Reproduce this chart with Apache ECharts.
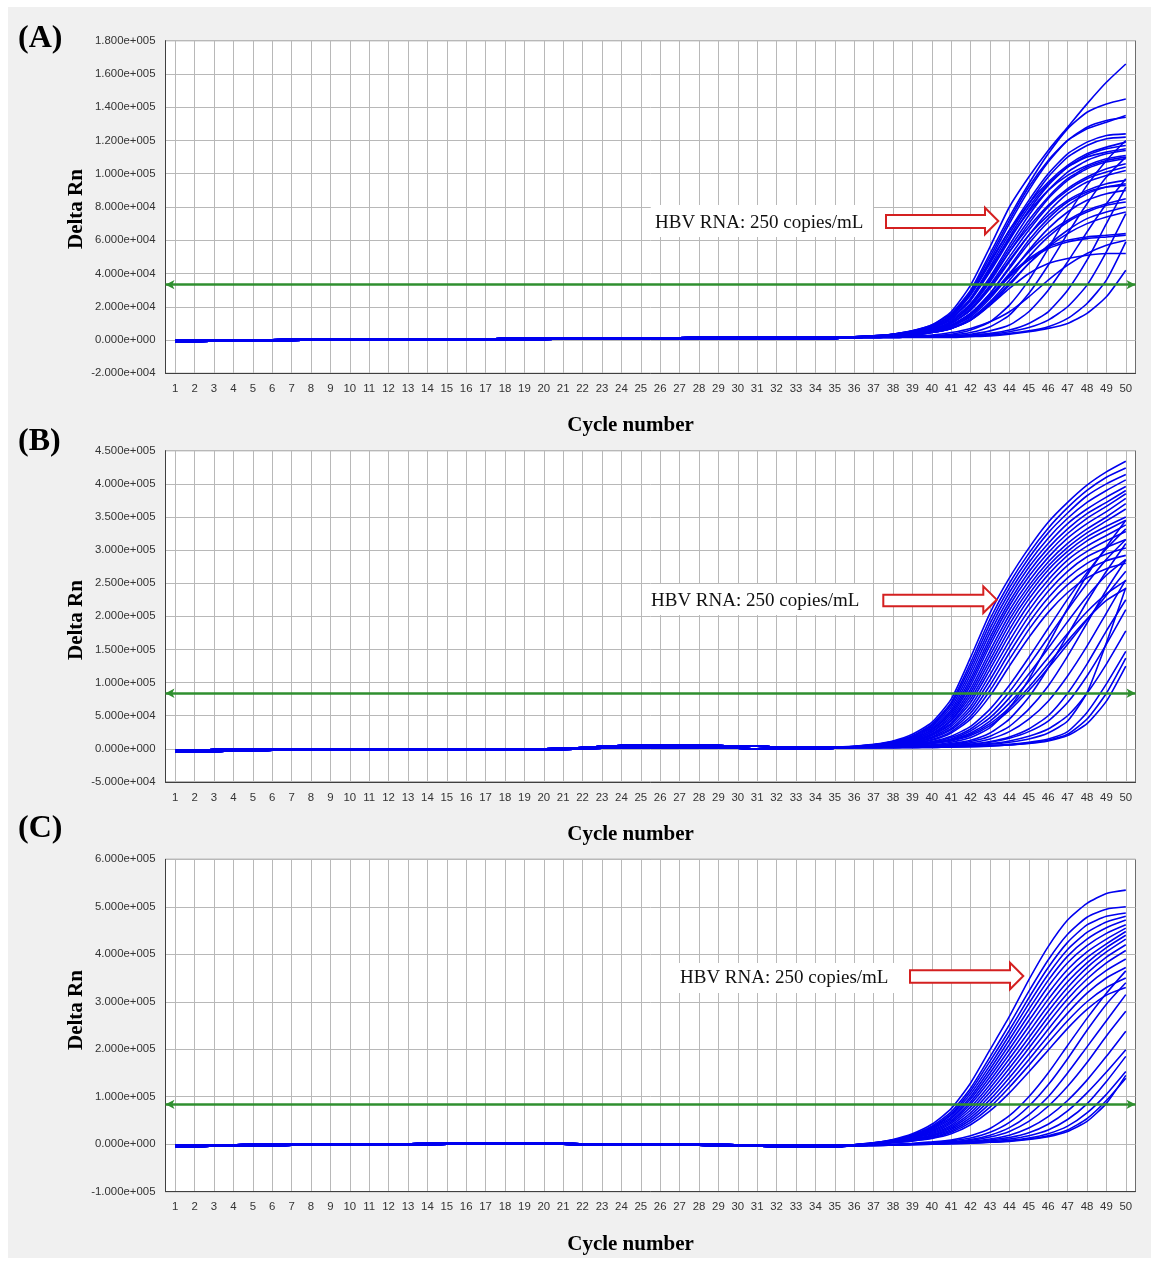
<!DOCTYPE html>
<html><head><meta charset="utf-8">
<script src="https://cdn.jsdelivr.net/npm/echarts@6/dist/echarts.min.js"></script>
<style>
html,body{margin:0;padding:0;background:#fff;}
#bg{position:absolute;left:8px;top:7px;width:1143px;height:1251px;background:#f0f0f0;}
#chart{position:absolute;left:0;top:0;width:1156px;height:1263px;}
</style></head><body><div id="bg"></div><div id="chart"></div>
<script>
// ---------- DATA (Delta Rn values in thousands) ----------
const cycles = [1,2,3,4,5,6,7,8,9,10,11,12,13,14,15,16,17,18,19,20,21,22,23,24,25,26,27,28,29,30,31,32,33,34,35,36,37,38,39,40,41,42,43,44,45,46,47,48,49,50];
const panelLabels = ['(A)','(B)','(C)'];
const yAxisTitle = 'Delta Rn';
const xAxisTitle = 'Cycle number';
const annotationText = 'HBV RNA: 250 copies/mL';
const thresholds = [33.3, 84, 84];

// pooled baseline band (lower / upper edge), cycles 1-35
const baseA_lo = [-0.8,-0.8,-0.6,-0.4,-0.3,-0.2,-0.2,-0.1,-0.1,0,0,0,0,0,0,0,0,0.3,0.4,0.4,0.5,0.5,0.5,0.5,0.6,0.6,0.6,0.6,0.7,0.7,0.8,0.8,0.9,0.9,1.0];
const baseA_hi = [-0.2,-0.2,0,0.1,0.2,0.2,0.3,0.3,0.3,0.4,0.4,0.4,0.4,0.5,0.5,0.5,0.6,1.0,1.1,1.1,1.2,1.2,1.2,1.3,1.3,1.4,1.4,1.5,1.5,1.6,1.6,1.7,1.7,1.8,1.9];
const baseB_lo = [-5,-5,-4,-3,-3,-2,-2,-2,-2,-2,-2,-2,-2,-2,-2,-2,-2,-2,-2,-2,-1,0,1,2,2,2,2,2,1,1,0,0,0,0,1];
const baseB_hi = [-2,-2,-1,0,0,0,0,0,0,0,0,0,0,0,0,0,0,0,0,0,1,2,4,5,6,6,6,5,5,4,4,3,3,3,3];
const baseC_lo = [-5,-5,-4,-3,-3,-3,-2,-2,-2,-2,-2,-1,-1,-1,0,0,0,0,0,0,0,-1,-1,-1,-1,-2,-2,-2,-3,-3,-4,-5,-5,-6,-6];
const baseC_hi = [-2,-2,-1,-1,0,0,0,0,0,0,1,1,1,2,2,2,2,2,2,2,2,1,1,1,1,0,0,0,0,-1,-1,-1,-2,-2,-2];

// amplification tails, cycles 36-50, one row per well
const tailsA = [
 [2,2.5,3.5,5.5,9,17,33,56,80,98,114,128,142,155,166],
 [2,2.5,3.5,5.5,9,16,30,52,74,94,112,127,137,142,145],
 [2,2.5,3.5,5,8,15,28,48,70,90,107,120,128,132,134],
 [2,2.5,3.5,5.5,8.5,15,29,50,72,92,108,120,127,131,135],
 [2,2.5,3.5,5,8,14,27,46,66,84,100,112,119,123,124],
 [2,2.5,3,5,7.5,13,25,44,64,82,98,110,117,121,122],
 [2,2.5,3.5,5,8,15,28,47,66,82,95,105,112,116,119],
 [1.5,2,3,4.5,7,13,24,41,60,78,93,104,111,115,117],
 [1.5,2,3,4.5,7,13,24,42,62,80,94,104,110,113,115],
 [1.5,2,3,4.5,7,12,22,38,57,75,90,101,108,112,114],
 [1.5,2,3,4.5,7,13,25,43,61,77,90,99,105,109,111],
 [1.5,2,3,4,6.5,11,21,37,55,72,86,97,104,108,110],
 [1.5,2,3,4,6,11,20,35,53,70,85,96,103,107,109],
 [1.5,2,3,4,6,11,21,36,53,68,81,91,98,103,106],
 [1.5,2,2.5,3.5,6,10,19,33,50,66,80,90,97,101,104],
 [1.5,2,2.5,4,6,10,18,31,47,63,77,88,95,99,102],
 [1.5,2,2.5,3.5,5.5,10,18,32,48,63,75,84,90,94,96],
 [1.5,2,2.5,3.5,5.5,9,16,28,43,58,71,81,88,92,94],
 [1.5,2,2.5,3.5,5,9,16,28,44,60,73,83,89,92,93],
 [1.5,2,2.5,3.5,5,8,14,25,39,54,67,77,84,88,90],
 [1.5,2,2.5,3.5,5,8,15,26,40,53,64,72,78,82,85],
 [1.5,2,2.5,3,4.5,7,13,23,36,50,62,71,77,81,83],
 [1.5,2,2.5,3,4.5,7,12,21,33,46,57,66,73,77,80],
 [1.5,2,2.5,3,4.5,7,12,22,34,46,56,64,70,74,77],
 [1.5,2,2.5,3.5,5,8,15,26,38,48,55,59,61,62,63],
 [1.5,2,2.5,3.5,5,8.5,16,27,39,49,56,60,62,63,64],
 [1.5,2,2.5,3,4.5,7,12,21,31,40,46,49,51,52,52],
 [1.5,1.5,2,2.5,3,4.5,7,11,17,26,36,45,52,57,60],
 [1.5,1.5,2,2,2.5,3.5,6,11,21,36,55,75,93,108,120],
 [1.5,1.5,2,2,2.5,3,4.5,8,15,28,45,64,82,98,110],
 [1.5,1.5,2,2,2,2.5,3.5,5.5,9,17,30,47,65,82,97],
 [1.5,1.5,1.5,2,2,2.5,3,4,6,10,17,30,48,70,92],
 [1.5,1.5,1.5,2,2,2,2.5,3.5,5,7.5,12,20,33,53,76],
 [1.5,1.5,1.5,2,2,2,2.5,3,4,5.5,8,13,22,36,59],
 [1.5,1.5,1.5,1.5,1.5,1.5,2,2.5,3.5,5,7,10,16,26,42]
];
const tailsB = [
 [4,7,12,22,40,75,138,205,258,303,342,372,398,418,434],
 [4,6,11,20,37,70,130,196,250,295,333,364,390,410,424],
 [4,6,11,19,35,67,124,189,243,288,326,356,382,400,414],
 [3,6,10,18,33,63,118,182,236,281,318,348,372,390,406],
 [3,5,10,17,31,59,112,175,229,274,310,340,362,380,396],
 [3,5,9,16,29,56,106,168,222,267,303,332,355,372,390],
 [3,5,9,15,28,53,101,162,216,260,296,325,348,366,385],
 [3,5,8,14,26,50,96,156,209,253,289,318,340,358,378],
 [3,5,8,14,25,47,90,148,202,246,282,310,332,350,370],
 [3,5,8,13,23,44,85,141,195,240,276,304,326,344,362],
 [3,4,7,12,22,42,80,134,188,233,270,298,320,336,350],
 [3,4,7,12,21,39,75,127,180,226,263,292,314,330,345],
 [3,4,7,11,20,37,70,120,172,218,255,285,306,322,338],
 [3,4,6,10,18,34,64,112,163,209,247,277,298,314,328],
 [3,4,6,10,17,31,59,104,154,200,238,268,290,304,316],
 [3,4,6,9,16,29,54,96,145,190,228,258,280,294,303],
 [3,4,5,8,14,26,49,88,135,180,218,248,270,284,292],
 [3,4,5,8,13,24,45,80,125,168,206,236,258,272,280],
 [3,4,5,7,11,19,34,60,96,138,182,226,266,302,332],
 [3,4,5,7,10,17,30,53,86,126,168,210,250,286,316],
 [3,3,4,6,9,15,27,47,77,113,152,192,230,262,286],
 [3,3,4,6,9,14,24,42,69,102,138,174,207,234,254],
 [3,3,4,5,8,13,22,38,62,93,128,163,196,224,242],
 [3,3,4,5,8,12,20,35,58,88,122,158,195,232,268],
 [2,3,3,4,6,10,17,32,62,105,158,212,262,305,345],
 [2,2,3,4,5,8,13,24,45,78,122,172,222,268,310],
 [2,2,3,3,5,7,11,19,34,60,95,140,190,240,285],
 [2,2,3,3,4,6,9,15,26,45,72,110,155,205,255],
 [2,2,2,3,4,5,7,11,18,30,50,84,128,178,225],
 [2,2,2,3,4,5,7,10,16,26,42,70,110,158,210],
 [2,2,2,3,3,4,6,8,12,19,30,50,84,128,178],
 [2,2,2,2,3,4,5,7,10,15,24,42,85,160,243],
 [2,2,2,2,3,3,4,5,7,10,15,26,55,98,147],
 [2,2,2,2,2,3,4,5,6,9,13,22,45,84,137],
 [2,2,2,2,2,3,3,4,6,8,12,20,38,72,125]
];
const tailsC = [
 [-1,3,10,22,42,75,129,199,269,346,416,472,507,528,535],
 [-1,3,9,20,38,68,118,184,252,322,388,442,478,495,500],
 [-1,3,9,19,36,64,112,175,240,308,372,425,462,480,487],
 [-1,2,8,18,34,61,106,166,230,296,358,410,446,468,480],
 [-1,2,8,17,32,57,100,158,220,284,345,396,432,456,472],
 [-2,2,7,16,30,54,95,150,210,272,332,382,418,444,462],
 [-2,2,7,15,28,50,89,142,200,260,318,368,405,432,455],
 [-2,2,6,14,26,47,84,134,190,248,305,355,393,422,448],
 [-2,1,6,13,24,44,78,126,180,236,292,342,382,414,440],
 [-2,1,5,12,22,40,72,118,170,224,280,330,372,405,432],
 [-2,1,5,11,20,37,66,110,160,213,268,318,360,394,420],
 [-2,1,5,10,18,34,61,102,150,202,256,306,348,382,408],
 [-2,1,4,9,17,31,56,94,140,190,242,292,334,366,390],
 [-2,1,4,8,15,28,51,86,130,178,228,276,318,350,372],
 [-2,0,3,7,13,25,46,78,120,166,214,260,300,330,350],
 [-2,0,3,7,12,22,41,70,108,152,198,244,284,314,330],
 [-3,-2,0,2,5,9,18,33,60,100,150,208,265,318,365],
 [-3,-2,-1,1,3,7,13,25,46,80,125,180,240,295,340],
 [-3,-2,-1,0,2,5,10,19,35,62,100,150,205,260,315],
 [-3,-2,-1,0,2,4,8,15,27,48,80,122,172,228,280],
 [-3,-2,-1,0,1,3,6,11,19,34,58,92,135,185,238],
 [-3,-2,-1,0,1,3,5,9,14,24,42,70,108,152,199],
 [-3,-2,-1,0,1,2,4,7,11,18,30,52,85,132,185],
 [-3,-2,-1,0,1,2,3,5,8,13,22,38,66,105,153],
 [-3,-3,-2,-1,0,1,2,4,7,11,18,30,54,92,139],
 [-3,-3,-2,-1,0,1,2,4,6,10,16,27,48,86,145]
];

// ---------- LAYOUT ----------
const panels = [
  {tails: tailsA, lo: baseA_lo, hi: baseA_hi, min: -20, max: 180, interval: 20, top: 40.7, height: 332.6,
   box: [651, 205, 222, 32], textX: 655, textY: 223, arrow: [886, 985, 998.3, 215, 228, 207.7, 234.3], labelY: 39, yTitleY: 209},
  {tails: tailsB, lo: baseB_lo, hi: baseB_hi, min: -50, max: 450, interval: 50, top: 450.7, height: 331.3,
   box: [645, 584, 228, 31], textX: 651, textY: 601, arrow: [883.3, 983.3, 996.7, 594.7, 606.3, 586.3, 613], labelY: 442, yTitleY: 620},
  {tails: tailsC, lo: baseC_lo, hi: baseC_hi, min: -100, max: 600, interval: 100, top: 859.3, height: 332.4,
   box: [674, 963, 224, 30], textX: 680, textY: 978, arrow: [910, 1010, 1023.3, 970.3, 982.7, 962.7, 989.3], labelY: 829, yTitleY: 1010}
];

function sci(v) {
  const s = (v * 1000).toExponential(3);
  const parts = s.split('e');
  const e = parts[1];
  return parts[0] + 'e' + e[0] + e.slice(1).padStart(3, '0');
}

const grids = [], xAxes = [], yAxes = [], series = [], graphics = [];
panels.forEach((p, i) => {
  grids.push({left: 165.5, top: p.top, width: 970, height: p.height, show: true,
    backgroundColor: '#ffffff', borderColor: '#6e6e6e', borderWidth: 1, containLabel: false, outerBoundsMode: 'none'});
  xAxes.push({type: 'value', gridIndex: i, min: 0.5, max: 50.5,
    axisLine: {show: true, onZero: false, lineStyle: {color: '#404040', width: 1}},
    axisTick: {show: false, customValues: cycles},
    axisLabel: {customValues: cycles, fontFamily: '"Liberation Sans", Arial', fontSize: 11.4, color: '#333', margin: 10},
    splitLine: {show: true, lineStyle: {color: '#b8b8b8', width: 1}},
    name: xAxisTitle, nameLocation: 'middle', nameGap: 42,
    nameTextStyle: {fontFamily: '"Liberation Serif", "Times New Roman"', fontWeight: 'bold', fontSize: 21, color: '#000',
      padding: [0, 40, 0, 0]}});
  yAxes.push({type: 'value', gridIndex: i, min: p.min, max: p.max, interval: p.interval,
    axisLine: {show: true, onZero: false, lineStyle: {color: '#404040', width: 1}},
    axisTick: {show: false},
    axisLabel: {formatter: sci, fontFamily: '"Liberation Sans", Arial', fontSize: 11.4, color: '#333', margin: 10},
    splitLine: {show: true, lineStyle: {color: '#b8b8b8', width: 1}}});
  p.tails.forEach((t, j) => {
    const base = (j % 2 === 0) ? p.lo : p.hi;
    const data = cycles.map((c, k) => [c, k < base.length ? base[k] : t[k - base.length]]);
    const s = {type: 'line', xAxisIndex: i, yAxisIndex: i, data: data, showSymbol: false, symbol: 'none',
      silent: true, animation: false, smooth: 0.2,
      lineStyle: {color: '#0000f0', width: 1.6}, z: 2};
    if (j === p.tails.length - 1) {
      s.markLine = {silent: true, animation: false, symbol: ['arrow', 'arrow'], symbolSize: [7, 9],
        label: {show: false}, lineStyle: {color: '#2f8f2f', width: 2.5, type: 'solid'},
        data: [{yAxis: thresholds[i]}]};
    }
    series.push(s);
  });
  // y-axis title (rotated)
  graphics.push({type: 'text', x: 76.5, y: p.yTitleY, rotation: Math.PI / 2, z: 100,
    style: {text: yAxisTitle, font: 'bold 21px "Liberation Serif"', fill: '#000', align: 'center', verticalAlign: 'middle'}});
  // panel label
  graphics.push({type: 'text', x: 18, y: p.labelY, z: 100,
    style: {text: panelLabels[i], font: 'bold 32px "Liberation Serif"', fill: '#000', verticalAlign: 'middle'}});
  // annotation
  graphics.push({type: 'rect', shape: {x: p.box[0], y: p.box[1], width: p.box[2], height: p.box[3]},
    style: {fill: '#ffffff'}, z: 100});
  graphics.push({type: 'text', x: p.textX, y: p.textY, z: 101,
    style: {text: annotationText, font: '19px "Liberation Serif"', fill: '#111', verticalAlign: 'middle'}});
  const a = p.arrow;
  graphics.push({type: 'polygon', z: 101,
    shape: {points: [[a[0], a[3]], [a[1], a[3]], [a[1], a[5]], [a[2], (a[5] + a[6]) / 2], [a[1], a[6]], [a[1], a[4]], [a[0], a[4]]]},
    style: {fill: '#ffffff', stroke: '#d42020', lineWidth: 2}});
});

const chart = echarts.init(document.getElementById('chart'), null, {renderer: 'canvas'});
chart.setOption({
  backgroundColor: 'transparent',
  animation: false,
  textStyle: {fontFamily: '"Liberation Sans", Arial'},
  grid: grids, xAxis: xAxes, yAxis: yAxes, series: series, graphic: graphics
});
</script></body></html>
